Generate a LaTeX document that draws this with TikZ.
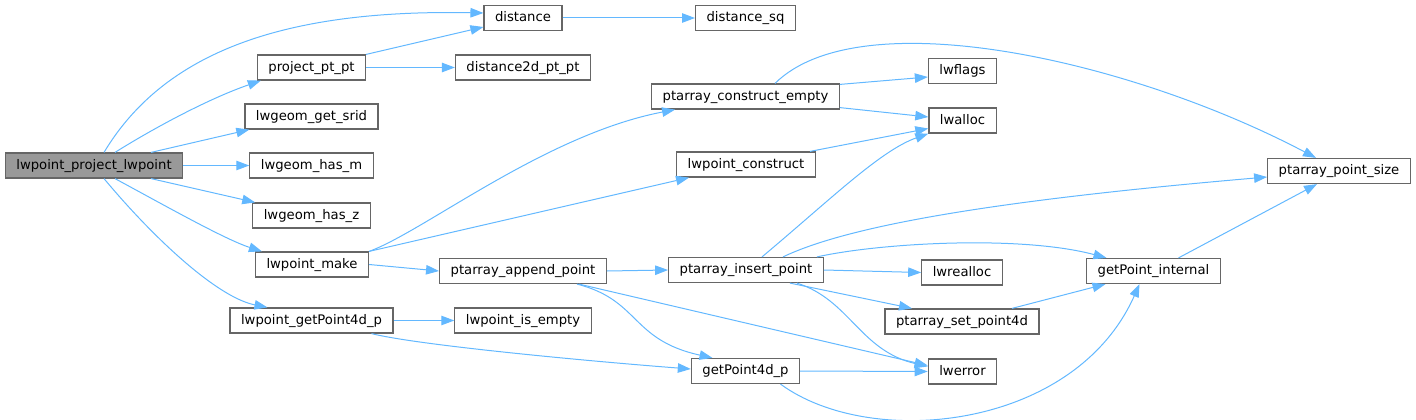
\documentclass[tikz,border=0pt]{standalone}
\usepackage{fontspec}
\setmainfont{DejaVu Sans}
\usetikzlibrary{arrows.meta}
\definecolor{callblue}{HTML}{63B8FF}
\definecolor{boxgray}{HTML}{666666}
\definecolor{rootgray}{HTML}{999999}
\tikzset{
  fn/.style={draw=boxgray, fill=white, line width=1.2pt, minimum height=25pt,
    inner xsep=11pt, inner ysep=0pt, text height=10pt, text depth=3pt,
    font=\fontsize{13.2}{15}\selectfont},
  root/.style={fn, fill=rootgray},
  call/.style={draw=callblue, line width=1pt, -{Triangle[length=13pt,width=9.5pt]}}
}

\begin{document}
\begin{tikzpicture}[x=1pt,y=-1pt]
    \useasboundingbox (0,0) rectangle (1416,420);

    % column 0 and 1
    \node[root] (main) at (94,165.5) {lwpoint\_project\_lwpoint};
    \node[fn] (project) at (311.5,67.5) {project\_pt\_pt};
    \node[fn] (srid) at (311.5,116.5) {lwgeom\_get\_srid};
    \node[fn] (hasm) at (311.5,165.5) {lwgeom\_has\_m};
    \node[fn] (hasz) at (311.5,215.5) {lwgeom\_has\_z};
    \node[fn] (make) at (312,264.5) {lwpoint\_make};
    \node[fn] (getp4d) at (311.5,320.5) {lwpoint\_getPoint4d\_p};

    % column 2 and 3
    \node[fn] (distance) at (523,18) {distance};
    \node[fn] (d2d) at (523,67.5) {distance2d\_pt\_pt};
    \node[fn] (pap) at (523,271) {ptarray\_append\_point};
    \node[fn] (isempty) at (523,320.5) {lwpoint\_is\_empty};
    \node[fn] (dsq) at (745.5,18) {distance\_sq};
    \node[fn] (pce) at (745.5,96.5) {ptarray\_construct\_empty};
    \node[fn] (lpc) at (746,164.5) {lwpoint\_construct};
    \node[fn] (pip) at (746,270) {ptarray\_insert\_point};
    \node[fn] (gp4d) at (745.5,371) {getPoint4d\_p};

    % column 4 to 6
    \node[fn] (lwflags) at (962.5,71) {lwflags};
    \node[fn] (lwalloc) at (962.5,120.5) {lwalloc};
    \node[fn] (lwrealloc) at (962,272.5) {lwrealloc};
    \node[fn] (psp4d) at (962,321.5) {ptarray\_set\_point4d};
    \node[fn] (lwerror) at (962.5,371.5) {lwerror};
    \node[fn] (gpi) at (1153.5,271) {getPoint\_internal};
    \node[fn] (pps) at (1339,171) {ptarray\_point\_size};

    % calls from lwpoint_project_lwpoint
    \draw[call] ([xshift=10pt]main.north) .. controls +(60,-100) and +(-200,-4) .. ([yshift=5pt]distance.west);
    \draw[call] ([xshift=21pt]main.north) .. controls +(40,-25) and +(-52,18) .. ([xshift=4pt]project.south west);
    \draw[call] ([xshift=57pt]main.north) -- ([xshift=5pt]srid.south west);
    \draw[call] (main.east) -- (hasm.west);
    \draw[call] ([xshift=57pt]main.south) -- ([xshift=3pt]hasz.north west);
    \draw[call] ([xshift=21pt]main.south) .. controls +(50,27) and +(-37,-12) .. ([xshift=7pt]make.north west);
    \draw[call] ([xshift=10pt]main.south) .. controls +(50,60) and +(-50,-10) .. ([xshift=38pt]getp4d.north west);

    \draw[call] (project.north east) -- ([yshift=-9pt]distance.west);
    \draw[call] (project.east) -- (d2d.west);
    \draw[call] (distance.east) -- (dsq.west);

    % lwpoint_make
    \draw[call] (make.north east) .. controls +(55,-20) and +(-130,25) .. ([xshift=24pt]pce.south west);
    \draw[call] (make.north east) -- ([xshift=13pt]lpc.south west);
    \draw[call] (make.east) -- (pap.west);
    \draw[call] (getp4d.east) -- (isempty.west);
    \draw[call] ([xshift=60pt]getp4d.south) .. controls +(48,12) and +(-92,-7) .. ([yshift=2pt]gp4d.west);

    % ptarray_construct_empty, lwpoint_construct
    \draw[call] ([yshift=-1pt]pce.north east) -- ([yshift=-6pt]lwflags.west);
    \draw[call] ([yshift=2pt]pce.south east) -- ([yshift=3.5pt]lwalloc.west);
    \draw[call] ([xshift=29.5pt]pce.north) .. controls +(85,-84) and +(-186,-98) .. ([xshift=-23pt]pps.north);
    \draw[call] ([xshift=64pt]lpc.north) -- ([yshift=-8pt]lwalloc.west);

    % ptarray_append_point
    \draw[call] (pap.east) -- (pip.west);
    \draw[call] ([xshift=54pt]pap.south) .. controls +(63,16) and +(-82,-18) .. ([xshift=-33pt]gp4d.north);
    \draw[call] ([xshift=56pt]pap.south) -- ([yshift=6pt]lwerror.west);

    % ptarray_insert_point
    \draw[call] ([xshift=16pt]pip.north) .. controls +(68,-57) and +(-48,17) .. (lwalloc.south west);
    \draw[call] ([xshift=37pt]pip.north) .. controls +(67,-32) and +(-267,23) .. ([yshift=-6pt]pps.west);
    \draw[call] ([xshift=71pt]pip.north) .. controls +(63,-14) and +(-86,-23) .. ([xshift=-47pt]gpi.north);
    \draw[call] (pip.east) -- (lwrealloc.west);
    \draw[call] ([xshift=44pt]pip.south) -- ([xshift=-50pt]psp4d.north);
    \draw[call] ([xshift=51pt]pip.south) .. controls +(53,17) and +(-68,-16) .. ([yshift=5pt]lwerror.west);

    % getPoint4d_p and the rest
    \draw[call] (gp4d.east) -- (lwerror.west);
    \draw[call] ([xshift=35pt]gp4d.south) .. controls +(90,66) and +(-65,146) .. ([xshift=-14pt]gpi.south);
    \draw[call] ([xshift=50pt]psp4d.north) -- ([xshift=-48pt]gpi.south);
    \draw[call] ([xshift=25pt]gpi.north) -- ([xshift=-22pt]pps.south);
\end{tikzpicture}
\end{document}
